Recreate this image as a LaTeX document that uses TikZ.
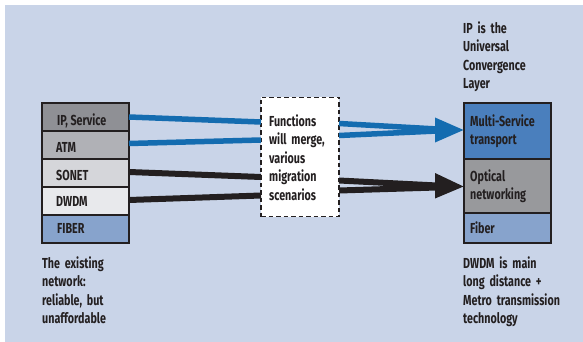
\documentclass[tikz,border=0pt]{standalone}
\usepackage{fontspec}
\setmainfont{Fira Sans}[FakeStretch=0.74]
\definecolor{bg}{RGB}{201,212,232}
\definecolor{txt}{RGB}{35,31,32}
\definecolor{gA}{RGB}{143,144,149}
\definecolor{gB}{RGB}{176,177,182}
\definecolor{gC}{RGB}{213,214,218}
\definecolor{gD}{RGB}{232,233,236}
\definecolor{fib}{RGB}{135,163,204}
\definecolor{msv}{RGB}{74,127,189}
\definecolor{opt}{RGB}{152,153,156}
\definecolor{lblue}{RGB}{20,108,176}
\begin{document}
\begin{tikzpicture}[x=1pt,y=-1pt,
  every node/.style={font=\fontsize{14.5}{18.4}\selectfont\bfseries, text=txt},
  layer/.style={draw=txt, line width=1.1pt},
  lbl/.style={anchor=base west, inner sep=0pt},
  para/.style={anchor=base west, inner sep=0pt, align=left, text width=140pt},
  bluewire/.style={draw=lblue, line width=5.5pt},
  blackwire/.style={draw=txt, line width=6pt},
  bluehead/.style={fill=lblue, draw=none},
  blackhead/.style={fill=txt, draw=none}]
\useasboundingbox (0,0) rectangle (583,342);
\fill[bg] (5,5) rectangle (583,342);
% left stack
\filldraw[layer, fill=gA] (42,103) rectangle (129,131);
\filldraw[layer, fill=gB] (42,131) rectangle (129,159);
\filldraw[layer, fill=gC] (42,159) rectangle (129,187);
\filldraw[layer, fill=gD] (42,187) rectangle (129,215);
\filldraw[layer, fill=fib] (42,215) rectangle (129,243);
\node[lbl] (ip) at (57,125) {IP, Service};
\node[lbl] (atm) at (56,152.5) {ATM};
\node[lbl] (sonet) at (56,180) {SONET};
\node[lbl] (dwdm) at (56,206.5) {DWDM};
\node[lbl] (fiber) at (57,233.5) {FIBER};
% right stack
\filldraw[layer, fill=msv] (464,103) rectangle (551,159);
\filldraw[layer, fill=opt] (464,159) rectangle (551,213);
\filldraw[layer, fill=fib] (464,213) rectangle (551,243);
\node[para] (ms) at (470,126.5) {Multi-Service\\transport};
\node[para] (on) at (470,181.5) {Optical\\networking};
\node[lbl] (fb) at (470,233.5) {Fiber};
% middle box
\node[draw=txt, fill=white, line width=1.6pt, dash pattern=on 4.5pt off 3pt,
      minimum width=78pt, minimum height=119pt, inner sep=0pt] (mid) at (300,157) {};
\node[para] (midtxt) at (269,126.5) {Functions\\will merge,\\various\\migration\\scenarios};
% connector coordinates
\coordinate (l1) at (129,117); \coordinate (m1) at (261,122);
\coordinate (l2) at (129,143.5); \coordinate (m2) at (261,140);
\coordinate (l3) at (129,172); \coordinate (m3) at (261,177);
\coordinate (l4) at (129,200); \coordinate (m4) at (261,195.5);
\coordinate (r1) at (339,123.5); \coordinate (r2) at (339,135.5);
\coordinate (r3) at (339,180.5); \coordinate (r4) at (339,190.5);
\coordinate (bt) at (463.5,130); \coordinate (kt) at (463.5,186.5);
\draw[bluewire] (l1) -- (m1);
\draw[bluewire] (l2) -- (m2);
\draw[blackwire] (l3) -- (m3);
\draw[blackwire] (l4) -- (m4);
\draw[bluewire] (r1) -- (437,129);
\draw[bluewire] (r2) -- (437,131);
\draw[blackwire] (r3) -- (437,185.5);
\draw[blackwire] (r4) -- (437,187.5);
\fill[bluehead] (435,117.5) -- (bt) -- (435,142.5) -- cycle;
\fill[blackhead] (435,173) -- (kt) -- (435,198.5) -- cycle;
% captions
\node[para] (cap1) at (42,268.5) {The existing\\network:\\reliable, but\\unaffordable};
\node[para] (cap2) at (463,268.5) {DWDM is main\\long distance +\\Metro transmission\\technology};
\node[para] (cap3) at (463,33.5) {IP is the\\Universal\\Convergence\\Layer};
\end{tikzpicture}
\end{document}
